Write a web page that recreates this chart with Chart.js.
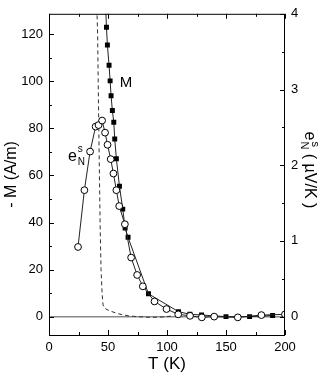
<!DOCTYPE html>
<html>
<head>
<meta charset="utf-8">
<script src="https://cdn.jsdelivr.net/npm/chart.js@4.4.1/dist/chart.umd.min.js"></script>
<style>
  html, body { margin: 0; padding: 0; background: #fff; }
  #wrap { width: 327px; height: 378px; }
</style>
</head>
<body>
<div id="wrap"><canvas id="myChart" width="327" height="378"></canvas></div>
<script>
// magnetisation M (A/m), filled squares, left axis
const tempM = [47.9, 48.7, 49.5, 50.9, 51.8, 52.6, 53.7, 54.9, 55.7, 57.1, 59.7, 62.5, 64.5, 67.0, 84.3, 109.8, 119.4, 129.3, 150, 170, 189.5];
const valuesM = [133, 123, 115.4, 106.8, 100.2, 93.9, 87.6, 82.6, 75.5, 67.1, 55.4, 45.7, 37.7, 33.7, 9.7, 2.1, 1.0, 0.7, 0, 0, 0.5];

// Nernst signal e_N^s (uV/K), open circles, right axis
const tempE = [24.6, 30, 34.8, 39.5, 42, 45, 47.5, 49.6, 52.3, 54.6, 57.1, 59.5, 64.3, 69.6, 74.7, 79.5, 89.4, 99.6, 109.5, 119.5, 129.5, 140, 160, 180, 200];
const valuesE = [0.92, 1.67, 2.18, 2.51, 2.53, 2.59, 2.43, 2.27, 2.08, 1.89, 1.67, 1.46, 1.22, 0.78, 0.55, 0.40, 0.20, 0.10, 0.03, 0.01, -0.01, 0, -0.01, 0.02, 0.03];

// dashed curve, left axis
const tempDash = [40.6, 41.2, 42.2, 43.3, 44.1, 45.0, 45.8, 46.8, 48.1, 50, 53, 57, 62, 68, 75, 85, 95, 105];
const valuesDash = [131, 120, 80, 40, 20, 10, 5, 3.8, 3.3, 2.8, 2.2, 1.5, 0.8, 0.3, 0, -0.3, -0.2, 0.3];

// zero baseline
const tempZero = [0, 200];
const valuesZero = [0, 0];

const xTicks = [0, 50, 100, 150, 200];
const xMinor = [25, 75, 125, 175];
const yTicks = [0, 20, 40, 60, 80, 100, 120];
const yMinor = [10, 30, 50, 70, 90, 110];
const y2Ticks = [0, 1, 2, 3, 4];
const y2Minor = [0.5, 1.5, 2.5, 3.5];

const FONT = '"Liberation Sans", Arial, Helvetica, sans-serif';

function toPoints(xs, ys) {
    return xs.map((x, i) => ({ x: x, y: ys[i] }));
}

const framePlugin = {
    id: 'frame',
    afterDraw(chart) {
        const ctx = chart.ctx;
        const area = chart.chartArea;
        const x = chart.scales.x;
        const y = chart.scales.y;
        const y2 = chart.scales.y2;

        ctx.save();
        ctx.strokeStyle = '#000';
        ctx.lineWidth = 1;
        ctx.strokeRect(area.left + 0.5, area.top + 0.5, area.right - area.left - 1, area.bottom - area.top);

        ctx.beginPath();
        const tick = (x1, y1, x2, y2p) => { ctx.moveTo(x1, y1); ctx.lineTo(x2, y2p); };
        xTicks.forEach(v => {
            const px = Math.round(x.getPixelForValue(v)) + 0.5;
            tick(px, area.bottom, px, area.bottom - 5);
            tick(px, area.top, px, area.top + 5);
        });
        xMinor.forEach(v => {
            const px = Math.round(x.getPixelForValue(v)) + 0.5;
            tick(px, area.bottom, px, area.bottom - 3);
            tick(px, area.top, px, area.top + 3);
        });
        yTicks.forEach(v => {
            const py = Math.round(y.getPixelForValue(v)) + 0.5;
            tick(area.left, py, area.left + 5, py);
        });
        yMinor.forEach(v => {
            const py = Math.round(y.getPixelForValue(v)) + 0.5;
            tick(area.left, py, area.left + 3, py);
        });
        y2Ticks.forEach(v => {
            const py = Math.round(y2.getPixelForValue(v)) + 0.5;
            tick(area.right, py, area.right - 5, py);
        });
        y2Minor.forEach(v => {
            const py = Math.round(y2.getPixelForValue(v)) + 0.5;
            tick(area.right, py, area.right - 3, py);
        });
        ctx.stroke();

        ctx.fillStyle = '#000';
        ctx.textBaseline = 'alphabetic';
        ctx.textAlign = 'left';

        // "M" label next to the squares
        ctx.font = '15px ' + FONT;
        ctx.fillText('M', x.getPixelForValue(60), y.getPixelForValue(97.6));

        // "e_N^s" label next to the circles
        const ex = x.getPixelForValue(16);
        const ey = y2.getPixelForValue(2.06);
        ctx.font = '16px ' + FONT;
        ctx.fillText('e', ex, ey);
        const ew = ctx.measureText('e').width;
        ctx.font = '10px ' + FONT;
        ctx.fillText('s', ex + ew + 1, ey - 9);
        ctx.fillText('N', ex + ew + 1, ey + 4);

        // right axis title, rotated clockwise
        ctx.translate(309, (area.top + area.bottom) / 2 - 5);
        ctx.rotate(Math.PI / 2);
        ctx.textBaseline = 'middle';
        ctx.font = '16px ' + FONT;
        const rest = ' ( \u00b5V/K )';
        const w1 = ctx.measureText('e').width;
        const w3 = ctx.measureText(rest).width;
        ctx.font = '11px ' + FONT;
        const w2 = Math.max(ctx.measureText('s').width, ctx.measureText('N').width);
        let cx = -(w1 + w2 + w3) / 2;
        ctx.font = '16px ' + FONT;
        ctx.fillText('e', cx, 0);
        ctx.font = '11px ' + FONT;
        ctx.fillText('s', cx + w1 + 1, -6);
        ctx.fillText('N', cx + w1 + 1, 5);
        ctx.font = '16px ' + FONT;
        ctx.fillText(rest, cx + w1 + w2 + 1, 0);
        ctx.restore();
    }
};

const ctx = document.getElementById('myChart');

new Chart(ctx, {
    type: 'scatter',
    data: {
        datasets: [{
            label: 'e_N^s',
            data: toPoints(tempE, valuesE),
            yAxisID: 'y2',
            showLine: true,
            borderColor: '#222',
            borderWidth: 1,
            pointStyle: 'circle',
            pointRadius: 3.4,
            pointBackgroundColor: '#fff',
            pointBorderColor: '#000',
            pointBorderWidth: 1
        }, {
            label: 'M',
            data: toPoints(tempM, valuesM),
            yAxisID: 'y',
            showLine: true,
            borderColor: '#222',
            borderWidth: 1,
            pointStyle: 'rect',
            pointRadius: 3.5,
            pointBackgroundColor: '#000',
            pointBorderColor: '#000',
            pointBorderWidth: 0
        }, {
            label: 'dashed',
            data: toPoints(tempDash, valuesDash),
            yAxisID: 'y',
            showLine: true,
            borderColor: '#333',
            borderWidth: 1,
            borderDash: [4, 3],
            pointRadius: 0
        }, {
            label: 'zero',
            data: toPoints(tempZero, valuesZero),
            yAxisID: 'y',
            showLine: true,
            borderColor: '#888',
            borderWidth: 1.5,
            pointRadius: 0
        }]
    },
    options: {
        responsive: false,
        animation: false,
        events: [],
        layout: { padding: { top: 7, left: 0, right: 0, bottom: 0 } },
        plugins: {
            legend: { display: false },
            tooltip: { enabled: false }
        },
        scales: {
            x: {
                type: 'linear',
                position: 'bottom',
                min: 0,
                max: 200,
                grid: { display: false, drawTicks: false },
                border: { display: false },
                afterBuildTicks: scale => { scale.ticks = xTicks.map(v => ({ value: v })); },
                afterFit: scale => { scale.height = 43; },
                ticks: {
                    padding: 5,
                    maxRotation: 0,
                    color: '#000',
                    font: { family: FONT, size: 13 }
                },
                title: {
                    display: true,
                    text: 'T (K)',
                    color: '#000',
                    font: { family: FONT, size: 17 },
                    padding: { top: 0, bottom: 3 }
                }
            },
            y: {
                type: 'linear',
                position: 'left',
                min: -7.8,
                max: 128.7,
                grid: { display: false, drawTicks: false },
                border: { display: false },
                afterBuildTicks: scale => { scale.ticks = yTicks.map(v => ({ value: v })); },
                afterFit: scale => { scale.width = 49; },
                ticks: {
                    padding: 6,
                    color: '#000',
                    font: { family: FONT, size: 13 }
                },
                title: {
                    display: true,
                    text: '- M (A/m)',
                    color: '#000',
                    font: { family: FONT, size: 16 },
                    padding: { top: 2, bottom: 0 }
                }
            },
            y2: {
                type: 'linear',
                position: 'right',
                min: -0.243,
                max: 4.0,
                grid: { display: false, drawTicks: false },
                border: { display: false },
                afterBuildTicks: scale => { scale.ticks = y2Ticks.map(v => ({ value: v })); },
                afterFit: scale => { scale.width = 42; },
                ticks: {
                    padding: 6,
                    color: '#000',
                    font: { family: FONT, size: 13 }
                }
            }
        }
    },
    plugins: [framePlugin]
});
</script>
</body>
</html>
